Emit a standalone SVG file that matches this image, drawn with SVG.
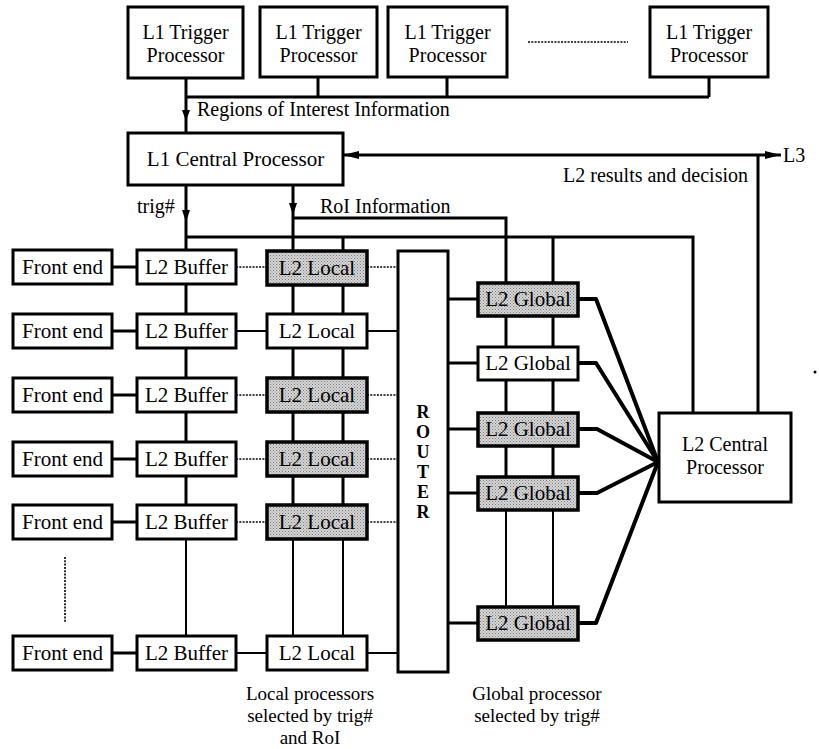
<svg xmlns="http://www.w3.org/2000/svg" width="819" height="749" viewBox="0 0 819 749">
  <defs>
    <!-- stippled grey fill for the highlighted processors -->
    <pattern id="stipple" width="3" height="3" patternUnits="userSpaceOnUse">
      <rect width="3" height="3" fill="#d6d6d6"/>
      <rect x="0" y="0" width="1" height="1" fill="#7a7a7a"/>
      <rect x="1.5" y="1.5" width="1" height="1" fill="#8a8a8a"/>
    </pattern>
    <marker id="arrow" viewBox="0 0 16 8" refX="16" refY="4" markerWidth="16" markerHeight="8" markerUnits="userSpaceOnUse" orient="auto-start-reverse">
      <path d="M0,0 L16,4 L0,8 Z" fill="#000"/>
    </marker>
    <style>
      .box { fill: #fff; stroke: #000; stroke-width: 3; }
      .shade { fill: url(#stipple); stroke: #000; stroke-width: 3.5; }
      .t { font-family: "Liberation Serif", serif; font-size: 21px; fill: #000; text-anchor: middle; }
      .m { font-family: "Liberation Serif", serif; font-size: 20px; fill: #000; text-anchor: middle; }
      .c { font-family: "Liberation Serif", serif; font-size: 19px; fill: #000; text-anchor: middle; }
      .l { font-family: "Liberation Serif", serif; font-size: 20px; fill: #000; }
      .router { font-family: "Liberation Serif", serif; font-size: 18px; font-weight: bold; fill: #000; text-anchor: middle; }
      .w { stroke: #000; stroke-width: 3; fill: none; }
      .thin { stroke: #000; stroke-width: 2; fill: none; }
      .dot { stroke: #000; stroke-width: 1.6; stroke-dasharray: 2 1.3; fill: none; }
      .fan { stroke: #000; stroke-width: 4; fill: none; stroke-linejoin: round; }
      .ah { fill: #000; }
    </style>
  </defs>

  <rect width="819" height="749" fill="#fff"/>

  <!-- connectors -->
  <g id="connectors">
    <!-- L1 trigger processors to the RoI bus -->
    <path class="w" d="M186,78 V133"/>
    <path class="w" d="M318,77 V97 M447,77 V97 M709,77 V97"/>
    <path class="w" d="M186,97 H709"/>
    <path class="ah" d="M182,110 L190,110 L186,121 Z"/>
    <path class="dot" d="M528,42 H628"/>

    <!-- L2 decision path: L2 central -> L1 central and L3 -->
    <path class="w" d="M343,155 H781" marker-start="url(#arrow)" marker-end="url(#arrow)"/>
    <path class="w" d="M758,155 V413"/>

    <!-- trig# distribution -->
    <path class="w" d="M186,185 V539"/>
    <path class="thin" d="M186,539 V636"/>
    <path class="ah" d="M182,210 L190,210 L186,222 Z"/>
    <path class="w" d="M186,237 H693 V413"/>
    <path class="w" d="M343,237 V539"/>
    <path class="thin" d="M343,539 V636"/>
    <path class="w" d="M553,237 V510"/>
    <path class="thin" d="M553,510 V607"/>

    <!-- RoI information -->
    <path class="w" d="M293,185 V539"/>
    <path class="thin" d="M293,539 V636"/>
    <path class="ah" d="M289,203 L297,203 L293,215 Z"/>
    <path class="w" d="M293,218 H506 V510"/>
    <path class="thin" d="M506,510 V607"/>

    <!-- front end to L2 buffer -->
    <path class="w" d="M112,267 H137 M112,331 H137 M112,395 H137 M112,459 H137 M112,522 H137 M112,653 H137"/>
    <path class="dot" d="M65,557 V623"/>

    <!-- L2 buffer to L2 local -->
    <path class="dot" d="M236,267 H267 M236,395 H267 M236,459 H267 M236,522 H267"/>
    <path class="thin" d="M236,331 H267 M236,653 H267"/>

    <!-- L2 local to router -->
    <path class="dot" d="M367,267 H398 M367,395 H398 M367,459 H398 M367,522 H398"/>
    <path class="thin" d="M367,331 H398 M367,653 H398"/>

    <!-- router to L2 global -->
    <path class="w" d="M448,299 H478 M448,363 H478 M448,429 H478 M448,493 H478 M448,623 H478"/>

    <!-- L2 global to L2 central -->
    <path class="fan" d="M578,299 H596 L658,462"/>
    <path class="fan" d="M578,363 H596 L658,462"/>
    <path class="fan" d="M578,429 H597 L658,462"/>
    <path class="fan" d="M578,493 H597 L658,462"/>
    <path class="fan" d="M578,623 H596 L658,462"/>
  </g>

  <!-- L1 trigger processors -->
  <g id="l1-trigger-1">
    <rect class="box" x="128" y="7" width="115" height="71"/>
    <text class="m" x="185.5" y="39">L1 Trigger</text>
    <text class="m" x="185.5" y="62">Processor</text>
  </g>
  <g id="l1-trigger-2">
    <rect class="box" x="260" y="7" width="117" height="70"/>
    <text class="m" x="318.5" y="39">L1 Trigger</text>
    <text class="m" x="318.5" y="62">Processor</text>
  </g>
  <g id="l1-trigger-3">
    <rect class="box" x="388" y="7" width="119" height="70"/>
    <text class="m" x="447.5" y="39">L1 Trigger</text>
    <text class="m" x="447.5" y="62">Processor</text>
  </g>
  <g id="l1-trigger-n">
    <rect class="box" x="650" y="7" width="118" height="70"/>
    <text class="m" x="709" y="39">L1 Trigger</text>
    <text class="m" x="709" y="62">Processor</text>
  </g>

  <!-- L1 central processor -->
  <g id="l1-central">
    <rect class="box" x="128" y="133" width="215" height="52"/>
    <text class="t" x="235.5" y="166">L1 Central Processor</text>
  </g>

  <!-- front ends -->
  <g id="front-end-1"><rect class="box" x="13" y="250" width="99" height="34"/><text class="t" x="62.5" y="274">Front end</text></g>
  <g id="front-end-2"><rect class="box" x="13" y="314" width="99" height="34"/><text class="t" x="62.5" y="338">Front end</text></g>
  <g id="front-end-3"><rect class="box" x="13" y="378" width="99" height="34"/><text class="t" x="62.5" y="402">Front end</text></g>
  <g id="front-end-4"><rect class="box" x="13" y="442" width="99" height="34"/><text class="t" x="62.5" y="466">Front end</text></g>
  <g id="front-end-5"><rect class="box" x="13" y="505" width="99" height="34"/><text class="t" x="62.5" y="529">Front end</text></g>
  <g id="front-end-6"><rect class="box" x="13" y="636" width="99" height="34"/><text class="t" x="62.5" y="660">Front end</text></g>

  <!-- L2 buffers -->
  <g id="l2-buffer-1"><rect class="box" x="137" y="250" width="99" height="34"/><text class="t" x="186.5" y="274">L2 Buffer</text></g>
  <g id="l2-buffer-2"><rect class="box" x="137" y="314" width="99" height="34"/><text class="t" x="186.5" y="338">L2 Buffer</text></g>
  <g id="l2-buffer-3"><rect class="box" x="137" y="378" width="99" height="34"/><text class="t" x="186.5" y="402">L2 Buffer</text></g>
  <g id="l2-buffer-4"><rect class="box" x="137" y="442" width="99" height="34"/><text class="t" x="186.5" y="466">L2 Buffer</text></g>
  <g id="l2-buffer-5"><rect class="box" x="137" y="505" width="99" height="34"/><text class="t" x="186.5" y="529">L2 Buffer</text></g>
  <g id="l2-buffer-6"><rect class="box" x="137" y="636" width="99" height="34"/><text class="t" x="186.5" y="660">L2 Buffer</text></g>

  <!-- L2 local processors -->
  <g id="l2-local-1"><rect class="shade" x="267" y="251" width="100" height="34"/><text class="t" x="317" y="275">L2 Local</text></g>
  <g id="l2-local-2"><rect class="box" x="267" y="314" width="100" height="34"/><text class="t" x="317" y="338">L2 Local</text></g>
  <g id="l2-local-3"><rect class="shade" x="267" y="378" width="100" height="34"/><text class="t" x="317" y="402">L2 Local</text></g>
  <g id="l2-local-4"><rect class="shade" x="267" y="442" width="100" height="34"/><text class="t" x="317" y="466">L2 Local</text></g>
  <g id="l2-local-5"><rect class="shade" x="267" y="505" width="100" height="34"/><text class="t" x="317" y="529">L2 Local</text></g>
  <g id="l2-local-6"><rect class="box" x="267" y="636" width="100" height="34"/><text class="t" x="317" y="660">L2 Local</text></g>

  <!-- router, label written one letter per line -->
  <g id="router">
    <rect class="box" x="398" y="251" width="50" height="421"/>
    <text class="router" x="423" y="418">R</text>
    <text class="router" x="423" y="438">O</text>
    <text class="router" x="423" y="458">U</text>
    <text class="router" x="423" y="478">T</text>
    <text class="router" x="423" y="498">E</text>
    <text class="router" x="423" y="518">R</text>
  </g>

  <!-- L2 global processors -->
  <g id="l2-global-1"><rect class="shade" x="478" y="283" width="100" height="33"/><text class="t" x="528" y="306">L2 Global</text></g>
  <g id="l2-global-2"><rect class="box" x="478" y="347" width="100" height="33"/><text class="t" x="528" y="370">L2 Global</text></g>
  <g id="l2-global-3"><rect class="shade" x="478" y="413" width="100" height="33"/><text class="t" x="528" y="436">L2 Global</text></g>
  <g id="l2-global-4"><rect class="shade" x="478" y="477" width="100" height="33"/><text class="t" x="528" y="500">L2 Global</text></g>
  <g id="l2-global-5"><rect class="shade" x="478" y="607" width="100" height="33"/><text class="t" x="528" y="630">L2 Global</text></g>

  <!-- L2 central processor -->
  <g id="l2-central">
    <rect class="box" x="659" y="413" width="132" height="89"/>
    <text class="m" x="725" y="451">L2 Central</text>
    <text class="m" x="725" y="474">Processor</text>
  </g>

  <!-- labels -->
  <g id="labels">
    <text class="l" x="197" y="116">Regions of Interest Information</text>
    <text class="l" x="137" y="213">trig#</text>
    <text class="l" x="320" y="213">RoI Information</text>
    <text class="l" x="748" y="182" text-anchor="end">L2 results and decision</text>
    <text class="l" x="783" y="162">L3</text>
    <text class="c" x="310" y="700">Local processors</text>
    <text class="c" x="310" y="722">selected by trig#</text>
    <text class="c" x="310" y="744">and RoI</text>
    <text class="c" x="537" y="700">Global processor</text>
    <text class="c" x="537" y="722">selected by trig#</text>
  </g>

  <circle cx="815" cy="372" r="1.5" fill="#000"/>
</svg>
